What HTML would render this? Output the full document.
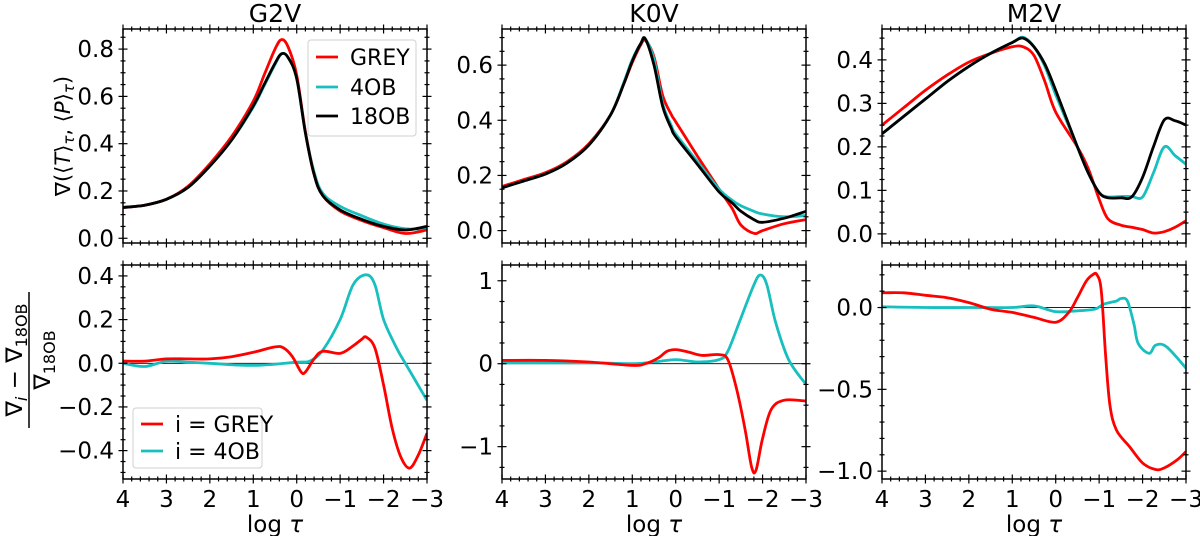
<!DOCTYPE html>
<html><head><meta charset="utf-8"><style>
html,body{margin:0;padding:0;background:#fff;}
svg{display:block;font-family:"DejaVu Sans","Liberation Sans",sans-serif;}
</style></head><body>
<svg id="fig" width="1200" height="536" viewBox="0 0 1200 536"></svg>
<script>
const NS="http://www.w3.org/2000/svg";
const svg=document.getElementById('fig');
// ---- data ----
const g2vTopX=[4,3.5,3,2.5,2,1.5,1,0.75,0.5,0.35,0.2,0,-0.2,-0.4,-0.6,-1,-1.5,-2,-2.5,-3];
const g2vTopGrey=[0.13,0.14,0.165,0.22,0.315,0.43,0.58,0.69,0.8,0.84,0.81,0.69,0.45,0.27,0.18,0.115,0.075,0.045,0.02,0.035];
const g2vTop4OB=[0.13,0.14,0.165,0.215,0.305,0.415,0.555,0.645,0.735,0.78,0.765,0.68,0.45,0.28,0.19,0.135,0.095,0.06,0.04,0.04];
const g2vTop18OB=[0.13,0.14,0.165,0.215,0.305,0.415,0.56,0.65,0.74,0.78,0.765,0.675,0.445,0.27,0.18,0.12,0.08,0.05,0.035,0.05];
const k0vTopX=[4,3.5,3,2.5,2,1.5,1.2,1,0.8,0.7,0.5,0.3,0.1,0,-0.5,-1,-1.3,-1.5,-1.8,-2,-2.5,-3];
const k0vTopGrey=[0.16,0.185,0.21,0.25,0.315,0.42,0.53,0.61,0.675,0.69,0.63,0.49,0.42,0.395,0.27,0.15,0.08,0.02,-0.01,0.0,0.025,0.04];
const k0vTop4OB=[0.155,0.18,0.205,0.245,0.31,0.42,0.535,0.62,0.68,0.695,0.62,0.46,0.38,0.35,0.25,0.15,0.11,0.09,0.07,0.06,0.05,0.055];
const k0vTop18OB=[0.155,0.18,0.205,0.245,0.31,0.42,0.53,0.615,0.68,0.695,0.6,0.45,0.37,0.34,0.24,0.14,0.1,0.07,0.04,0.03,0.045,0.07];
const m2vTopX=[4,3.5,3,2.5,2,1.5,1,0.75,0.5,0.25,0,-0.5,-0.75,-1,-1.2,-1.5,-1.75,-2,-2.25,-2.5,-2.75,-3];
const m2vTopGrey=[0.25,0.29,0.33,0.365,0.395,0.415,0.43,0.43,0.41,0.35,0.28,0.2,0.15,0.08,0.035,0.02,0.015,0.01,0.002,0.005,0.015,0.03];
const m2vTop4OB=[0.23,0.27,0.31,0.35,0.385,0.415,0.44,0.452,0.43,0.385,0.32,0.2,0.14,0.095,0.085,0.086,0.086,0.085,0.14,0.2,0.18,0.16];
const m2vTop18OB=[0.23,0.27,0.31,0.35,0.385,0.415,0.44,0.45,0.43,0.39,0.33,0.2,0.14,0.095,0.083,0.083,0.085,0.13,0.2,0.262,0.26,0.25];
const g2vBotGreyX=[4,3.5,3,2.5,2,1.5,1,0.5,0.3,0.1,-0.1,-0.2,-0.4,-0.6,-1,-1.3,-1.5,-1.6,-1.8,-2,-2.2,-2.4,-2.6,-2.8,-3];
const g2vBotGrey=[0.01,0.01,0.02,0.02,0.02,0.03,0.05,0.075,0.07,0.03,-0.04,-0.04,0.02,0.055,0.045,0.08,0.11,0.12,0.07,-0.1,-0.3,-0.43,-0.48,-0.42,-0.32];
const g2vBot4OBX=[4,3.5,3,2.5,2,1,0,-0.3,-0.6,-1,-1.3,-1.6,-1.8,-2,-2.3,-2.5,-3];
const g2vBot4OB=[0,-0.015,0.01,0.005,0,-0.01,0.005,0.01,0.06,0.2,0.36,0.405,0.36,0.2,0.07,0,-0.17];
const k0vBotGreyX=[4,3,2,1,0.7,0.4,0.2,0,-0.3,-0.6,-1,-1.2,-1.4,-1.6,-1.75,-1.85,-2,-2.2,-2.5,-3];
const k0vBotGrey=[0.04,0.04,0.02,-0.02,0,0.07,0.15,0.17,0.14,0.1,0.11,0.05,-0.3,-0.8,-1.25,-1.28,-0.9,-0.55,-0.44,-0.45];
const k0vBot4OBX=[4,2,1,0.5,0,-0.5,-1,-1.2,-1.5,-1.8,-1.95,-2.1,-2.3,-2.6,-3];
const k0vBot4OB=[0.01,0.01,0,0.02,0.05,0.02,0.05,0.15,0.55,0.95,1.07,0.95,0.5,0.05,-0.25];
const m2vBotGreyX=[4,3.5,3,2.5,2,1.5,1,0.5,0,-0.3,-0.5,-0.7,-0.85,-0.95,-1.05,-1.15,-1.25,-1.4,-1.7,-2,-2.3,-2.5,-2.8,-3];
const m2vBotGrey=[0.09,0.09,0.075,0.06,0.03,-0.01,-0.03,-0.06,-0.09,-0.03,0.06,0.16,0.2,0.2,0.1,-0.3,-0.6,-0.75,-0.85,-0.95,-0.99,-0.98,-0.93,-0.88];
const m2vBot4OBX=[4,3,2,1,0.5,0,-0.5,-0.9,-1.1,-1.4,-1.5,-1.65,-1.8,-1.9,-2.15,-2.3,-2.55,-3];
const m2vBot4OB=[0.005,0,0,0,0.01,-0.025,-0.02,-0.01,0.02,0.04,0.055,0.04,-0.1,-0.22,-0.28,-0.23,-0.24,-0.37];
const xTicks=[4,3,2,1,0,-1,-2,-3];
const xTickLabels=["4","3","2","1","0","\u22121","\u22122","\u22123"];
// ---- helpers ----
function el(tag,attrs,parent){const e=document.createElementNS(NS,tag);for(const k in attrs)e.setAttribute(k,attrs[k]);(parent||svg).appendChild(e);return e;}
function fmt(v,d){let s=v.toFixed(d);if(Math.abs(v)<1e-9)s=(0).toFixed(d);return s.replace('-','\u2212');}
const RED="#ff0000",CYAN="#17bfbf",BLACK="#000000";
const cols=[123,502,882],W=304;
const rows=[[29,243],[265,479]];
const FS="font-size:23px";
function smoothPath(pts){let d=`M${pts[0][0]},${pts[0][1]}`;for(let i=0;i<pts.length-1;i++){const p0=pts[Math.max(0,i-1)],p1=pts[i],p2=pts[i+1],p3=pts[Math.min(pts.length-1,i+2)];const c1=[p1[0]+(p2[0]-p0[0])/6,p1[1]+(p2[1]-p0[1])/6],c2=[p2[0]-(p3[0]-p1[0])/6,p2[1]-(p3[1]-p1[1])/6];d+=` C${c1[0].toFixed(1)},${c1[1].toFixed(1)} ${c2[0].toFixed(1)},${c2[1].toFixed(1)} ${p2[0].toFixed(1)},${p2[1].toFixed(1)}`;}return d;}
function panel(name,ci,ri,ylim,yt,yd,yminor,series,zero,showX){
  const x0=cols[ci],x1=x0+W,y0=rows[ri][0],y1=rows[ri][1];
  const g=el('g',{});
  
  
  const sx=v=>x0+(4-v)/7*W, sy=v=>y1-(v-ylim[0])/(ylim[1]-ylim[0])*(y1-y0);
  const cid='clip-'+name;
  const cp=el('clipPath',{id:cid},g);el('rect',{x:x0,y:y0,width:W,height:y1-y0},cp);
  if(zero){const z=el('line',{x1:x0,x2:x1,y1:sy(0),y2:sy(0),stroke:'#000','stroke-width':0.9},g);
    
    }
  const lg=el('g',{'clip-path':`url(#${cid})`},g);
  series.forEach(s=>{const pts=s.x.map((xv,i)=>[sx(xv),sy(s.y[i])]);
    const p=el('path',{d:smoothPath(pts),fill:'none',stroke:s.c,'stroke-width':2.8,'stroke-linejoin':'round'},lg);
    
    });
  const fr=el('rect',{x:x0,y:y0,width:W,height:y1-y0,fill:'none',stroke:'#000','stroke-width':1.5},g);
  
  
  const tk=el('g',{stroke:'#000','stroke-width':1.2},g);
  for(let v=4;v>=-3.001;v-=0.2){const X=sx(v);const major=Math.abs(v-Math.round(v))<1e-6;const L=major?4.5:2.5;
    el('line',{x1:X,x2:X,y1:y1-L,y2:y1+L},tk);el('line',{x1:X,x2:X,y1:y0-L,y2:y0+L},tk);}
  const n0=Math.ceil(ylim[0]/yminor-1e-6),n1=Math.floor(ylim[1]/yminor+1e-6);
  for(let n=n0;n<=n1;n++){const v=n*yminor;const Y=sy(v);const major=yt.some(t=>Math.abs(t-v)<1e-6);const L=major?4.5:2.5;
    el('line',{x1:x0-L,x2:x0+L,y1:Y,y2:Y},tk);el('line',{x1:x1-L,x2:x1+L,y1:Y,y2:Y},tk);}
  yt.forEach(v=>{const t=el('text',{x:x0-9,y:sy(v)+8,'text-anchor':'end',style:FS},g);t.textContent=fmt(v,yd);
    
    });
  if(showX){xTicks.forEach((v,i)=>{const t=el('text',{x:sx(v),y:507,'text-anchor':'middle',style:FS},g);t.textContent=xTickLabels[i];
      
      });
    const xl=el('text',{x:x0+W/2,y:532,'text-anchor':'middle',style:FS},g);xl.innerHTML='log <tspan font-style="italic">τ</tspan>';
    
    }
  return g;
}
panel('g2v-top',0,0,[-0.02,0.885],[0,0.2,0.4,0.6,0.8],1,0.05,[{x:g2vTopX,y:g2vTop4OB,c:CYAN,n:'line-4ob'},{x:g2vTopX,y:g2vTopGrey,c:RED,n:'line-grey'},{x:g2vTopX,y:g2vTop18OB,c:BLACK,n:'line-18ob'}],false,false);
panel('k0v-top',1,0,[-0.045,0.731],[0,0.2,0.4,0.6],1,0.05,[{x:k0vTopX,y:k0vTopGrey,c:RED,n:'line-grey'},{x:k0vTopX,y:k0vTop4OB,c:CYAN,n:'line-4ob'},{x:k0vTopX,y:k0vTop18OB,c:BLACK,n:'line-18ob'}],false,false);
panel('m2v-top',2,0,[-0.021,0.471],[0,0.1,0.2,0.3,0.4],1,0.025,[{x:m2vTopX,y:m2vTopGrey,c:RED,n:'line-grey'},{x:m2vTopX,y:m2vTop4OB,c:CYAN,n:'line-4ob'},{x:m2vTopX,y:m2vTop18OB,c:BLACK,n:'line-18ob'}],false,false);
panel('g2v-bottom',0,1,[-0.53,0.45],[-0.4,-0.2,0,0.2,0.4],1,0.05,[{x:g2vBot4OBX,y:g2vBot4OB,c:CYAN,n:'line-4ob-diff'},{x:g2vBotGreyX,y:g2vBotGrey,c:RED,n:'line-grey-diff'}],true,true);
panel('k0v-bottom',1,1,[-1.39,1.19],[-1,0,1],0,0.25,[{x:k0vBot4OBX,y:k0vBot4OB,c:CYAN,n:'line-4ob-diff'},{x:k0vBotGreyX,y:k0vBotGrey,c:RED,n:'line-grey-diff'}],true,true);
panel('m2v-bottom',2,1,[-1.048,0.26],[-1,-0.5,0],1,0.1,[{x:m2vBot4OBX,y:m2vBot4OB,c:CYAN,n:'line-4ob-diff'},{x:m2vBotGreyX,y:m2vBotGrey,c:RED,n:'line-grey-diff'}],true,true);
// titles
[['G2V',0],['K0V',1],['M2V',2]].forEach(([t,i])=>{const e=el('text',{x:cols[i]+W/2,y:22,'text-anchor':'middle',style:'font-size:25px'});e.textContent=t;
  
  });
// y labels
const yl=el('text',{transform:'translate(70,136) rotate(-90)','text-anchor':'middle',style:'font-size:21px'});
yl.innerHTML='∇(⟨<tspan font-style="italic">T</tspan>⟩<tspan style="font-size:15px" dy="4" font-style="italic">τ</tspan><tspan dy="-4">, ⟨</tspan><tspan font-style="italic">P</tspan>⟩<tspan style="font-size:15px" dy="4" font-style="italic">τ</tspan><tspan dy="-4">)</tspan>';


const fg=el('g',{transform:'translate(29,360) rotate(-90)'});


const num=el('text',{x:0,y:-7,'text-anchor':'middle',style:'font-size:23px'},fg);num.innerHTML='∇<tspan style="font-size:16px" dy="5" font-style="italic">i</tspan><tspan dy="-5"> − ∇</tspan><tspan style="font-size:16px" dy="5">18OB</tspan>';
el('line',{x1:-68,x2:68,y1:0,y2:0,stroke:'#000','stroke-width':1.5},fg);
const den=el('text',{x:0,y:21,'text-anchor':'middle',style:'font-size:23px'},fg);den.innerHTML='∇<tspan style="font-size:16px" dy="5">18OB</tspan>';
// legends
function legend(name,x,y,w,h,items){const g=el('g',{});
  
  
  el('rect',{x,y,width:w,height:h,rx:3,fill:'#fff','fill-opacity':0.85,stroke:'#d0d0d0','stroke-width':1},g);
  items.forEach((it,i)=>{const yy=it[2];el('line',{x1:x+8,x2:x+30,y1:yy,y2:yy,stroke:it[1],'stroke-width':2.8},g);
    const t=el('text',{x:x+42,y:yy+8,style:'font-size:22px'},g);t.textContent=it[0];
    
    });}
legend('top-legend',308,40,108,96,[['GREY',RED,57],['4OB',CYAN,87],['18OB',BLACK,116]]);
legend('bottom-legend',133,408,129,60,[['i = GREY',RED,424],['i = 4OB',CYAN,451]]);
</script>
</body></html>
